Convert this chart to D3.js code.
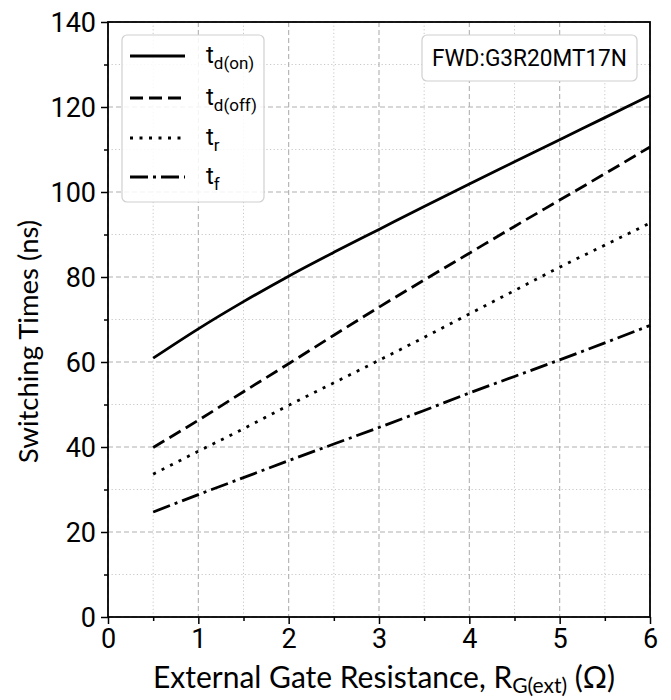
<!DOCTYPE html>
<html>
<head>
<meta charset="utf-8">
<script src="https://cdn.jsdelivr.net/npm/d3@7"></script>
<style>
  body { margin: 0; background: #fff; }
  svg { display: block; }
</style>
</head>
<body>
<svg id="chart" width="671" height="700"></svg>
<script>
const rg = [0.5, 1, 1.5, 2, 2.5, 3, 3.5, 4, 4.5, 5, 5.5, 6];
const tdOn  = [60.9, 67.8, 74.2, 80.2, 85.8, 91.2, 96.6, 101.9, 107.1, 112.3, 117.5, 122.7];
const tdOff = [39.9, 46.3, 53.0, 59.6, 66.3, 72.9, 79.3, 85.6, 91.9, 98.1, 104.3, 110.6];
const tR    = [33.6, 39.0, 44.3, 49.8, 55.1, 60.4, 65.8, 71.3, 76.8, 82.3, 87.5, 92.7];
const tF    = [24.7, 28.8, 32.8, 36.8, 40.7, 44.6, 48.6, 52.7, 56.6, 60.5, 64.5, 68.6];
const xTicks = [0, 1, 2, 3, 4, 5, 6];
const yTicks = [0, 20, 40, 60, 80, 100, 120, 140];
const xMinor = [0.5, 1.5, 2.5, 3.5, 4.5, 5.5];
const yMinor = [10, 30, 50, 70, 90, 110, 130];
const seriesNames = [["d(on)"], ["d(off)"], ["r"], ["f"]];
const annotation = "FWD:G3R20MT17N";

const svg = d3.select("#chart");
const m = {left: 108, right: 650, top: 22, bottom: 617};
const x = d3.scaleLinear().domain([0, 6]).range([m.left, m.right]);
const y = d3.scaleLinear().domain([0, 140]).range([m.bottom, m.top]);

// grid minor
const g = svg.append("g");
g.selectAll(".vmin").data(xMinor).join("line")
  .attr("x1", d => x(d)).attr("x2", d => x(d)).attr("y1", m.top).attr("y2", m.bottom)
  .attr("stroke", "#c8c8c8").attr("stroke-width", 1).attr("stroke-dasharray", "1.2,2.4");
g.selectAll(".hmin").data(yMinor).join("line")
  .attr("y1", d => y(d)).attr("y2", d => y(d)).attr("x1", m.left).attr("x2", m.right)
  .attr("stroke", "#c8c8c8").attr("stroke-width", 1).attr("stroke-dasharray", "1.2,2.4");
// grid major
g.selectAll(".vmaj").data(xTicks).join("line")
  .attr("x1", d => x(d)).attr("x2", d => x(d)).attr("y1", m.top).attr("y2", m.bottom)
  .attr("stroke", "#b0b0b0").attr("stroke-width", 1.1).attr("stroke-dasharray", "5,3");
g.selectAll(".hmaj").data(yTicks).join("line")
  .attr("y1", d => y(d)).attr("y2", d => y(d)).attr("x1", m.left).attr("x2", m.right)
  .attr("stroke", "#b0b0b0").attr("stroke-width", 1.1).attr("stroke-dasharray", "5,3");

// lines
const styles = [
  {data: tdOn, dash: null},
  {data: tdOff, dash: "13,6"},
  {data: tR, dash: "3,6.5"},
  {data: tF, dash: "18,5,3,5"}
];
const line = d3.line().x((d, i) => x(rg[i])).y(d => y(d)).curve(d3.curveMonotoneX);
styles.forEach(s => {
  svg.append("path").datum(s.data).attr("d", line)
    .attr("fill", "none").attr("stroke", "#000").attr("stroke-width", 2.8)
    .attr("stroke-dasharray", s.dash);
});

// axes
const fontTick = "Roboto, sans-serif";
const xAxis = svg.append("g").attr("transform", `translate(0,${m.bottom})`)
  .call(d3.axisBottom(x).tickValues(xTicks).tickFormat(d3.format("d")).tickSize(7).tickPadding(5));
const xAxisMin = svg.append("g").attr("transform", `translate(0,${m.bottom})`)
  .call(d3.axisBottom(x).tickValues(xMinor).tickFormat("").tickSize(4));
const yAxis = svg.append("g").attr("transform", `translate(${m.left},0)`)
  .call(d3.axisLeft(y).tickValues(yTicks).tickFormat(d3.format("d")).tickSize(7).tickPadding(5));
const yAxisMin = svg.append("g").attr("transform", `translate(${m.left},0)`)
  .call(d3.axisLeft(y).tickValues(yMinor).tickFormat("").tickSize(4));
[xAxis, xAxisMin, yAxis, yAxisMin].forEach(a => {
  a.select(".domain").remove();
  a.selectAll("line").attr("stroke", "#000").attr("stroke-width", 1.5);
  a.selectAll("text").attr("font-family", fontTick).attr("font-size", 27).attr("fill", "#000");
});
xAxis.selectAll("text").attr("dy", "0.71em");
yAxis.selectAll("text").attr("dy", "0.36em");

// frame
svg.append("rect").attr("x", m.left).attr("y", m.top)
  .attr("width", m.right - m.left).attr("height", m.bottom - m.top)
  .attr("fill", "none").attr("stroke", "#000").attr("stroke-width", 1.8);

// axis labels
const xl = svg.append("text").attr("x", 384).attr("y", 688)
  .attr("text-anchor", "middle").attr("font-family", "Lato, sans-serif").attr("font-size", 30).attr("fill", "#000");
xl.append("tspan").text("External Gate Resistance, R");
xl.append("tspan").attr("font-size", 21).attr("dy", 5).text("G(ext)");
xl.append("tspan").attr("dy", -5).text(" (Ω)");

svg.append("text").attr("transform", `translate(38,${(m.top + m.bottom) / 2 + 22}) rotate(-90)`)
  .attr("text-anchor", "middle").attr("font-family", "Lato, sans-serif").attr("font-size", 27.5).attr("fill", "#000")
  .text("Switching Times (ns)");

// legend
const lg = svg.append("g");
lg.append("rect").attr("x", 122).attr("y", 35).attr("width", 142).attr("height", 167)
  .attr("rx", 5).attr("fill", "#fff").attr("fill-opacity", 0.85).attr("stroke", "#d0d0d0").attr("stroke-width", 1.2);
const legY = [56, 98, 138, 177];
styles.forEach((s, i) => {
  lg.append("line").attr("x1", 130).attr("x2", 185).attr("y1", legY[i]).attr("y2", legY[i])
    .attr("stroke", "#000").attr("stroke-width", 2.8).attr("stroke-dasharray", s.dash);
  const t = lg.append("text").attr("x", 206).attr("y", legY[i] + 7)
    .attr("font-family", fontTick).attr("font-size", 24).attr("fill", "#000");
  t.append("tspan").text("t");
  t.append("tspan").attr("font-size", 17).attr("dy", 6).text(seriesNames[i][0]);
});

// annotation box
svg.append("rect").attr("x", 422).attr("y", 35).attr("width", 215).attr("height", 46)
  .attr("rx", 5).attr("fill", "#fff").attr("stroke", "#d0d0d0").attr("stroke-width", 1.2);
svg.append("text").attr("x", 529.5).attr("y", 66).attr("text-anchor", "middle")
  .attr("font-family", fontTick).attr("font-size", 24).attr("fill", "#000")
  .attr("textLength", 195).attr("lengthAdjust", "spacingAndGlyphs")
  .text(annotation);
</script>
</body>
</html>
